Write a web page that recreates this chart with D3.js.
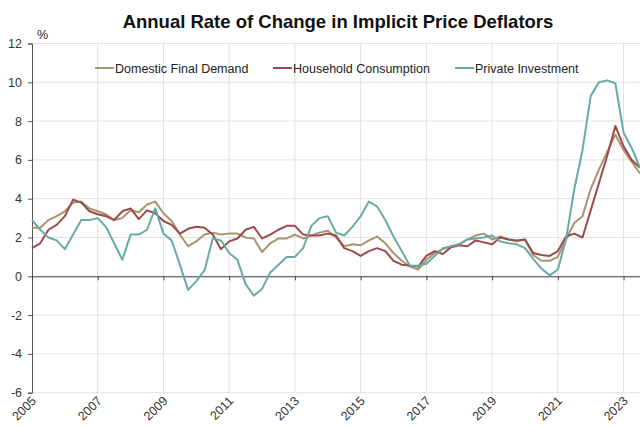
<!DOCTYPE html>
<html>
<head>
<meta charset="utf-8">
<script src="https://cdn.jsdelivr.net/npm/d3@7"></script>
<style>
  body { margin: 0; background: #fff; }
  svg { font-family: "Liberation Sans", Arial, sans-serif; }
</style>
</head>
<body>
<script>
// quarterly, 2005 Q1 .. 2023 Q3
var startYear = 2005;

var domesticFinalDemand = [
  2.5, 2.5, 2.9, 3.1,
  3.35, 3.8, 3.85, 3.5,
  3.35, 3.2, 2.9, 3.0,
  3.4, 3.3, 3.7, 3.85,
  3.25, 2.85, 2.15, 1.55,
  1.8, 2.15, 2.25, 2.15,
  2.2, 2.2, 2.0, 1.95,
  1.25, 1.7, 1.95, 1.95,
  2.15, 1.95, 2.1, 2.25,
  2.35, 2.0, 1.55, 1.65,
  1.6, 1.85, 2.05, 1.7,
  1.2, 0.8, 0.5, 0.35,
  0.85, 1.2, 1.4, 1.55,
  1.65, 1.9, 2.1, 2.2,
  1.9, 2.05, 1.9, 1.8,
  1.9, 1.1, 0.8, 0.8,
  1.0, 1.9, 2.75, 3.1,
  4.5, 5.5, 6.4, 7.3,
  6.5, 5.9, 5.3
];

var householdConsumption = [
  1.45, 1.7, 2.4, 2.65,
  3.1, 3.95, 3.8, 3.35,
  3.2, 3.1, 2.9, 3.35,
  3.5, 2.95, 3.4, 3.25,
  2.85, 2.65, 2.2, 2.45,
  2.55, 2.5, 2.15, 1.4,
  1.8, 1.95, 2.4, 2.55,
  1.95, 2.15, 2.4, 2.6,
  2.6, 2.15, 2.1, 2.1,
  2.2, 2.1, 1.45, 1.3,
  1.05, 1.3, 1.45, 1.3,
  0.8, 0.6, 0.55, 0.5,
  1.05, 1.3, 1.15, 1.5,
  1.6, 1.55, 1.85, 1.75,
  1.65, 2.0, 1.9, 1.85,
  1.9, 1.2, 1.1, 1.05,
  1.3, 2.05, 2.2, 2.0,
  3.4, 4.8, 6.2, 7.75,
  6.7, 6.0, 5.6
];

var privateInvestment = [
  2.9, 2.4, 2.0, 1.85,
  1.4, 2.15, 2.9, 2.9,
  3.0, 2.55, 1.7, 0.85,
  2.15, 2.15, 2.4, 3.5,
  2.2, 1.85, 0.6, -0.7,
  -0.25, 0.3, 1.95, 1.85,
  1.2, 0.85, -0.4, -1.0,
  -0.65, 0.2, 0.6, 1.0,
  1.0, 1.45, 2.6, 3.0,
  3.1, 2.25, 2.1, 2.55,
  3.1, 3.85, 3.6, 2.9,
  2.05, 1.3, 0.55, 0.55,
  0.65, 1.05, 1.45, 1.55,
  1.65, 1.9, 1.95, 2.0,
  2.1, 1.8, 1.7, 1.65,
  1.45, 0.9, 0.4, 0.05,
  0.35, 1.9, 4.5, 6.5,
  9.3, 10.0, 10.1, 9.95,
  7.4, 6.6, 5.6
];

var seriesNames = ["Domestic Final Demand", "Household Consumption", "Private Investment"];
var seriesColors = ["#a8946f", "#9c4a4a", "#67aaa7"];
var yTicks = [-6, -4, -2, 0, 2, 4, 6, 8, 10, 12];
var xTicks = [2005, 2007, 2009, 2011, 2013, 2015, 2017, 2019, 2021, 2023];

var width = 640, height = 426;
var svg = d3.select("body").append("svg").attr("width", width).attr("height", height);

var x = d3.scaleLinear().domain([2005, 2023.5]).range([32, 640]);
var y = d3.scaleLinear().domain([-6, 12]).range([392.7, 43.5]);

// title
svg.append("text").attr("x", 338).attr("y", 28).attr("text-anchor", "middle")
  .attr("font-size", "18.5px").attr("font-weight", "bold").attr("fill", "#111")
  .text("Annual Rate of Change in Implicit Price Deflators");

// grid
svg.append("g").selectAll("line").data(yTicks).enter().append("line")
  .attr("x1", x(2005)).attr("x2", width)
  .attr("y1", function(d){ return y(d) }).attr("y2", function(d){ return y(d) })
  .attr("stroke", "#e2e2e2").attr("stroke-width", 1);
svg.append("g").selectAll("line").data(xTicks.slice(1)).enter().append("line")
  .attr("x1", function(d){ return x(d) }).attr("x2", function(d){ return x(d) })
  .attr("y1", y(12)).attr("y2", y(-6))
  .attr("stroke", "#e2e2e2").attr("stroke-width", 1);

// y axis
var yAxis = d3.axisLeft(y).tickValues(yTicks).tickSize(4).tickPadding(6)
  .tickFormat(function(d){ return String(d) });
var gy = svg.append("g").attr("transform", "translate(" + x(2005) + ",0)").call(yAxis);
gy.select(".domain").attr("stroke", "#555");
gy.selectAll(".tick line").attr("stroke", "#555");
gy.selectAll("text").attr("font-size", "12.5px").attr("fill", "#333")
  .attr("font-family", "Liberation Sans, Arial, sans-serif");

svg.append("text").attr("x", 37).attr("y", 39).attr("font-size", "12.5px").attr("fill", "#222")
  .text("%");

// zero line with ticks
var xAxis = d3.axisBottom(x).tickValues(xTicks).tickSize(4).tickFormat("");
var gx = svg.append("g").attr("transform", "translate(0," + y(0) + ")").call(xAxis);
gx.select(".domain").attr("stroke", "#444");
gx.selectAll(".tick line").attr("stroke", "#444");

// x labels at the bottom, rotated
svg.append("g").selectAll("text").data(xTicks).enter().append("text")
  .attr("transform", function(d){ return "translate(" + (x(d) + 5) + "," + (y(-6) + 9) + ") rotate(-45)" })
  .attr("text-anchor", "end").attr("font-size", "12.5px").attr("fill", "#333")
  .text(function(d){ return d });

// lines
var allSeries = [domesticFinalDemand, householdConsumption, privateInvestment];
var line = d3.line()
  .x(function(d, i){ return x(startYear + i / 4) })
  .y(function(d){ return y(d) });

svg.append("g").selectAll("path").data(allSeries).enter().append("path")
  .attr("d", line)
  .attr("fill", "none")
  .attr("stroke", function(d, i){ return seriesColors[i] })
  .attr("stroke-width", 2)
  .attr("stroke-linejoin", "round");

// legend
var legendX = [95, 273, 455];
var legend = svg.append("g").selectAll("g").data(seriesNames).enter().append("g")
  .attr("transform", function(d, i){ return "translate(" + legendX[i] + ",68)" });
legend.append("line").attr("x1", 0).attr("x2", 19).attr("y1", 0).attr("y2", 0)
  .attr("stroke", function(d, i){ return seriesColors[i] }).attr("stroke-width", 2);
legend.append("text").attr("x", 20).attr("y", 4.5).attr("font-size", "12.5px").attr("fill", "#222")
  .text(function(d){ return d });
</script>
</body>
</html>
